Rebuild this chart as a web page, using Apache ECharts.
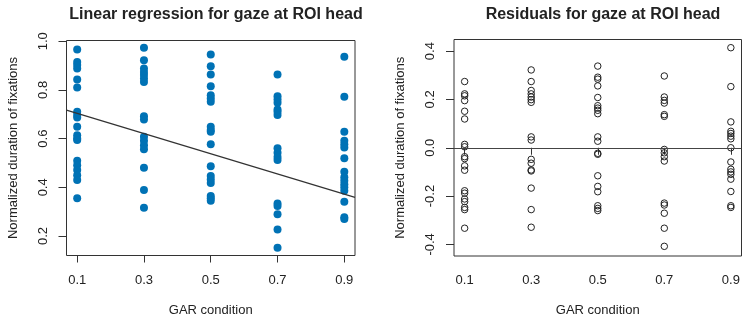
<!DOCTYPE html>
<html>
<head>
<meta charset="utf-8">
<script src="https://cdn.jsdelivr.net/npm/echarts@6/dist/echarts.min.js"></script>
<style>
  html, body { margin: 0; padding: 0; background: #fff; }
  #chart { width: 754px; height: 322px; }
</style>
</head>
<body>
<div id="chart"></div>
<script>
// GAR condition levels
const conditions = [0.1, 0.3, 0.5, 0.7, 0.9];
const xTicks = [0.1, 0.3, 0.5, 0.7, 0.9];
const fitTicks = [0.2, 0.4, 0.6, 0.8, 1.0];
const residTicks = [-0.4, -0.2, 0.0, 0.2, 0.4];

// normalized duration of fixations, per condition
const dur01 = [0.966, 0.915, 0.902, 0.888, 0.843, 0.810, 0.710, 0.697, 0.687, 0.649, 0.614, 0.601, 0.594, 0.509, 0.491, 0.471, 0.450, 0.430, 0.355];
const dur03 = [0.973, 0.922, 0.888, 0.874, 0.861, 0.847, 0.833, 0.692, 0.679, 0.608, 0.591, 0.573, 0.556, 0.480, 0.389, 0.316];
const dur05 = [0.945, 0.897, 0.863, 0.815, 0.778, 0.765, 0.751, 0.649, 0.635, 0.628, 0.577, 0.487, 0.446, 0.432, 0.418, 0.364, 0.355, 0.345];
const dur07 = [0.863, 0.774, 0.761, 0.747, 0.720, 0.710, 0.697, 0.560, 0.542, 0.525, 0.512, 0.334, 0.323, 0.289, 0.227, 0.152];
const dur09 = [0.936, 0.772, 0.628, 0.591, 0.577, 0.564, 0.519, 0.464, 0.441, 0.427, 0.413, 0.400, 0.386, 0.341, 0.277, 0.270];

// residuals, per condition
const res01 = [0.274, 0.223, 0.215, 0.195, 0.151, 0.119, 0.014, 0.004, -0.037, -0.045, -0.075, -0.093, -0.178, -0.188, -0.212, -0.223, -0.247, -0.256, -0.333];
const res03 = [0.322, 0.274, 0.237, 0.223, 0.210, 0.199, 0.188, 0.045, 0.032, -0.048, -0.064, -0.092, -0.096, -0.167, -0.256, -0.329];
const res05 = [0.338, 0.292, 0.284, 0.256, 0.208, 0.174, 0.164, 0.155, 0.141, 0.045, 0.027, -0.023, -0.027, -0.116, -0.160, -0.182, -0.240, -0.251, -0.260];
const res07 = [0.297, 0.210, 0.196, 0.185, 0.137, 0.130, -0.007, -0.021, -0.037, -0.055, -0.229, -0.237, -0.271, -0.333, -0.408];
const res09 = [0.414, 0.253, 0.107, 0.068, 0.059, 0.048, 0.037, 0.000, -0.059, -0.089, -0.100, -0.110, -0.130, -0.181, -0.240, -0.247];

// regression line ends, read at the plot edges
const fitX = [0.068, 0.932];
const fitY = [0.717, 0.359];

const durCols = [dur01, dur03, dur05, dur07, dur09];
const resCols = [res01, res03, res05, res07, res09];

function toPoints(cols) {
    const pts = [];
    cols.forEach((col, i) => {
        col.forEach(v => pts.push([conditions[i], v]));
    });
    return pts;
}

const font = 'Liberation Sans, Arial, sans-serif';
const ink = '#222';

function xAxisFor(gridIndex) {
    return {
        gridIndex: gridIndex,
        type: 'value',
        min: 0.068,
        max: 0.932,
        name: 'GAR condition',
        nameLocation: 'middle',
        nameGap: 48,
        nameTextStyle: { color: ink, fontSize: 13, fontFamily: font },
        axisLine: { show: false },
        splitLine: { show: false },
        axisTick: {
            show: true,
            customValues: xTicks,
            length: 7,
            lineStyle: { color: '#333', width: 1 }
        },
        axisLabel: {
            customValues: xTicks,
            margin: 18,
            color: ink,
            fontSize: 13,
            fontFamily: font,
            formatter: v => v.toFixed(1)
        }
    };
}

function yAxisFor(gridIndex, min, max, ticks) {
    return {
        gridIndex: gridIndex,
        type: 'value',
        min: min,
        max: max,
        name: 'Normalized duration of fixations',
        nameLocation: 'middle',
        nameGap: 47,
        nameTextStyle: { color: ink, fontSize: 13, fontFamily: font },
        axisLine: { show: false },
        splitLine: { show: false },
        axisTick: {
            show: true,
            customValues: ticks,
            length: 8,
            lineStyle: { color: '#333', width: 1 }
        },
        axisLabel: {
            customValues: ticks,
            rotate: 90,
            margin: 17,
            color: ink,
            fontSize: 13,
            fontFamily: font,
            formatter: v => v.toFixed(1)
        }
    };
}

const chart = echarts.init(document.getElementById('chart'), null, { renderer: 'canvas' });

const option = {
    animation: false,
    backgroundColor: '#fff',
    title: [
        {
            text: 'Linear regression for gaze at ROI head',
            left: 211, top: 2, textAlign: 'center',
            textStyle: { fontSize: 16, fontWeight: 'bold', color: ink, fontFamily: font }
        },
        {
            text: 'Residuals for gaze at ROI head',
            left: 598, top: 2, textAlign: 'center',
            textStyle: { fontSize: 16, fontWeight: 'bold', color: ink, fontFamily: font }
        }
    ],
    grid: [
        { left: 66.5, right: 399, top: 40.5, bottom: 66.5, show: true, borderColor: '#333', borderWidth: 1, backgroundColor: 'transparent' },
        { left: 454, right: 12.5, top: 39.5, bottom: 66, show: true, borderColor: '#333', borderWidth: 1, backgroundColor: 'transparent' }
    ],
    xAxis: [xAxisFor(0), xAxisFor(1)],
    yAxis: [
        yAxisFor(0, 0.12, 1.003, fitTicks),
        yAxisFor(1, -0.448, 0.448, residTicks)
    ],
    series: [
        {
            name: 'duration',
            type: 'scatter',
            xAxisIndex: 0, yAxisIndex: 0,
            symbol: 'circle',
            symbolSize: 8,
            itemStyle: { color: '#0072b5', opacity: 1 },
            data: toPoints(durCols),
            z: 2
        },
        {
            name: 'fit',
            type: 'line',
            xAxisIndex: 0, yAxisIndex: 0,
            showSymbol: false,
            lineStyle: { color: '#333', width: 1.2 },
            data: fitX.map((x, i) => [x, fitY[i]]),
            z: 3
        },
        {
            name: 'residuals',
            type: 'scatter',
            xAxisIndex: 1, yAxisIndex: 1,
            symbol: 'circle',
            symbolSize: 6.5,
            itemStyle: { color: 'transparent', borderColor: '#222', borderWidth: 1, opacity: 1 },
            data: toPoints(resCols),
            markLine: {
                silent: true,
                symbol: 'none',
                label: { show: false },
                lineStyle: { color: '#444', width: 1.2, type: 'solid' },
                data: [{ yAxis: 0 }]
            }
        }
    ]
};

chart.setOption(option);

window.addEventListener('resize', () => {
    chart.resize();
});
</script>
</body>
</html>
